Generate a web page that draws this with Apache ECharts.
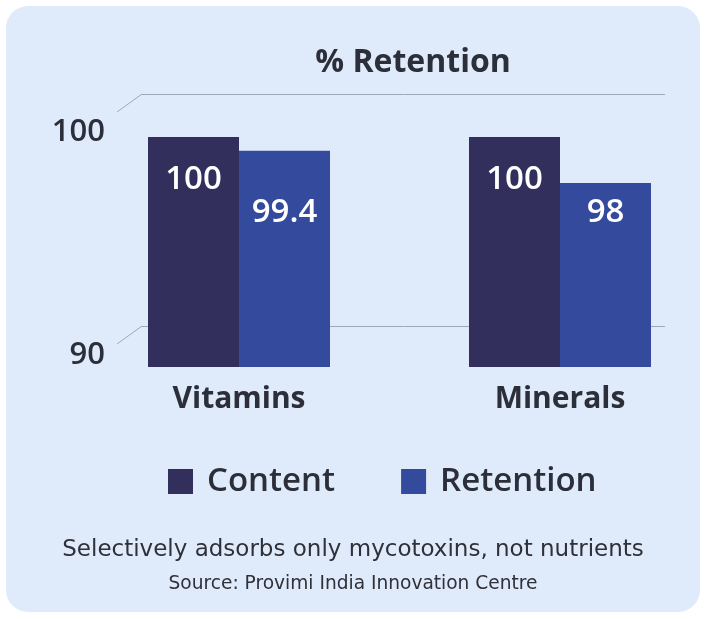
<!DOCTYPE html>
<html>
<head>
<meta charset="utf-8">
<title>% Retention</title>
<script src="https://cdn.jsdelivr.net/npm/echarts@6/dist/echarts.min.js"></script>
<style>
    html, body { margin: 0; padding: 0; background: #ffffff; }
    #main { width: 706px; height: 619px; }
</style>
</head>
<body>
<div id="main"></div>
<script>
// chart data
var categories = ['Vitamins', 'Minerals'];
var seriesNames = ['Content', 'Retention'];
var contentValues = [100, 100];
var retentionValues = [99.4, 98];
var yMin = 90;
var yMax = 100;
var yStep = 10;

var textColor = '#2c2e3a';
var contentColor = '#322f5d';
var retentionColor = '#344a9c';
var panelColor = '#dfebfb';
var gridLineColor = '#9ea8b8';

// label row used for the Retention values
var retentionLabelY = 212;

var myChart = echarts.init(document.getElementById('main'), null, { renderer: 'canvas' });

var tickLabelStyle = { fontFamily: 'Open Sans', fontSize: 31, fontWeight: 600, color: textColor };

var option = {
    backgroundColor: '#ffffff',
    animation: false,
    title: {
        text: '% Retention',
        left: 408,
        top: 42,
        textAlign: 'center',
        textStyle: { fontFamily: 'Open Sans', fontSize: 32, fontWeight: 'bold', color: textColor }
    },
    legend: {
        data: seriesNames,
        left: 168,
        top: 465,
        padding: 0,
        icon: 'rect',
        itemWidth: 25,
        itemHeight: 25,
        itemGap: 66,
        textStyle: { fontFamily: 'Open Sans', fontSize: 33, fontWeight: 600, color: textColor, padding: [0, 0, 0, 9] }
    },
    grid: [
        // front plane with the bars: category ticks sit at the bar pair centres
        { left: 239, width: 321, top: 137, height: 230 },
        // back plane with the grid lines
        { left: 142, right: 41, top: 94, height: 232 }
    ],
    xAxis: [
        {
            type: 'category', gridIndex: 0, data: categories, boundaryGap: false,
            axisLine: { show: false }, axisTick: { show: false },
            axisLabel: { margin: 17, fontFamily: 'Open Sans', fontSize: 30, fontWeight: 'bold', color: textColor }
        },
        { type: 'category', gridIndex: 1, data: categories, show: false }
    ],
    yAxis: [
        {
            type: 'value', gridIndex: 0, min: yMin, max: yMax, interval: yStep, offset: 134,
            axisLine: { show: false }, axisTick: { show: false }, splitLine: { show: false },
            axisLabel: {
                margin: 0,
                formatter: function (v) { return v === yMin ? '{lo|' + v + '}' : '{hi|' + v + '}'; },
                rich: {
                    hi: Object.assign({ padding: [0, 0, 10, 0] }, tickLabelStyle),
                    lo: Object.assign({ padding: [0, 0, 24, 0] }, tickLabelStyle)
                }
            }
        },
        {
            type: 'value', gridIndex: 1, min: yMin, max: yMax, interval: yStep,
            axisLine: { show: false }, axisTick: { show: false }, axisLabel: { show: false },
            splitLine: { show: true, lineStyle: { color: gridLineColor, width: 1 } }
        }
    ],
    series: [
        {
            name: seriesNames[0], type: 'bar', xAxisIndex: 0, yAxisIndex: 0,
            data: contentValues, barWidth: 91, barGap: '0%',
            itemStyle: { color: contentColor },
            label: {
                show: true, position: 'insideTop', distance: 26,
                fontFamily: 'Open Sans', fontSize: 33, fontWeight: 600, color: '#ffffff'
            }
        },
        {
            name: seriesNames[1], type: 'bar', xAxisIndex: 0, yAxisIndex: 0,
            data: retentionValues, barWidth: 91, barGap: '0%',
            itemStyle: { color: retentionColor },
            label: {
                show: true, position: 'insideTop', distance: 40,
                fontFamily: 'Open Sans', fontSize: 33, fontWeight: 600, color: '#ffffff'
            }
        }
    ],
    graphic: [
        {
            type: 'rect', z: -100, silent: true,
            shape: { x: 6, y: 6, width: 694, height: 606, r: 22 },
            style: { fill: panelColor }
        },
        {
            type: 'text', left: 'center', top: 539,
            style: { text: 'Selectively adsorbs only mycotoxins, not nutrients', fontFamily: 'DejaVu Sans', fontSize: 23, fill: '#2f3038' }
        },
        {
            type: 'text', left: 'center', top: 575,
            style: { text: 'Source: Provimi India Innovation Centre', fontFamily: 'DejaVu Sans', fontSize: 18.6, fill: '#2f3038' }
        }
    ]
};

myChart.setOption(option);

// place the Retention labels on one row, and join the axis ticks to the back grid lines
try {
    var retData = retentionValues.map(function (v, i) {
        var top = myChart.convertToPixel({ xAxisIndex: 0, yAxisIndex: 0 }, [i, v])[1];
        return { value: v, label: { distance: Math.max(4, retentionLabelY - top - 16) } };
    });

    var ticks = [];
    for (var t = yMin; t <= yMax; t += yStep) { ticks.push(t); }
    var connectors = ticks.map(function (t) {
        var y = myChart.convertToPixel({ yAxisIndex: 1 }, t);
        return {
            type: 'line', silent: true,
            shape: { x1: 142, y1: y, x2: 117, y2: y + 18 },
            style: { stroke: gridLineColor, lineWidth: 1 }
        };
    });

    myChart.setOption({
        series: [{}, { data: retData }],
        graphic: option.graphic.concat(connectors)
    });
}
catch (e) {
    console.error(e);
}
</script>
</body>
</html>
